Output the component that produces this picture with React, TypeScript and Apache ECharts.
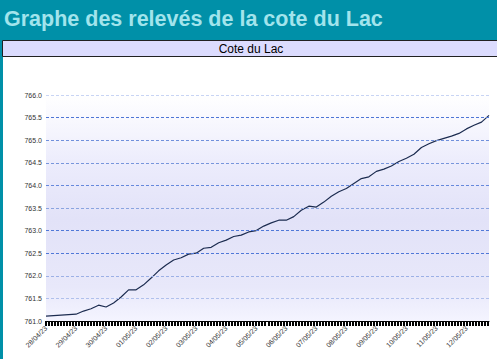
import React, { useEffect, useRef } from "react";
import * as echarts from "echarts";

const pageTitle = "Graphe des relevés de la cote du Lac";
const chartTitle = "Cote du Lac";
const dateLabels = [
  "28/04/23", "29/04/23", "30/04/23", "01/05/23", "02/05/23", "03/05/23", "04/05/23",
  "05/05/23", "06/05/23", "07/05/23", "08/05/23", "09/05/23", "10/05/23", "11/05/23", "12/05/23",
];
const stepHours = 6;
const levels = [
  761.11, 761.12, 761.13, 761.14, 761.15, 761.22, 761.27, 761.35, 761.31, 761.4,
  761.53, 761.69, 761.69, 761.8, 761.95, 762.11, 762.24, 762.35, 762.4, 762.48,
  762.5, 762.61, 762.63, 762.73, 762.79, 762.87, 762.9, 762.97, 763.0, 763.1,
  763.17, 763.23, 763.23, 763.31, 763.45, 763.54, 763.52, 763.63, 763.76, 763.86,
  763.93, 764.04, 764.15, 764.19, 764.31, 764.36, 764.43, 764.53, 764.6, 764.69,
  764.84, 764.92, 764.99, 765.04, 765.09, 765.15, 765.25, 765.33, 765.4, 765.55,
];
const yTicks = [761.5, 762.0, 762.5, 763.0, 763.5, 764.0, 764.5, 765.0, 765.5, 766.0];
const gridColors = [
  "#b0c0ec", "#9cb0e6", "#5078d8", "#5078d8", "#8aa4e0",
  "#6688dc", "#7896dc", "#7090dc", "#4f76d6", "#c8d4f4",
];
const yMin = 761;
const yMax = 766;

export default function App() {
  const ref = useRef<HTMLDivElement>(null);
  useEffect(() => {
    document.body.style.margin = "0";
    const chart = echarts.init(ref.current!, null, { renderer: "svg" });
    const data = levels.map((v, i) => [i * stepHours, v]);
    const xMax = (levels.length - 1) * stepHours;
    chart.setOption({
      animation: false,
      backgroundColor: "#0090a8",
      textStyle: { fontFamily: "Liberation Sans, Arial, sans-serif" },
      graphic: [
        {
          type: "rect",
          shape: { x: 3, y: 57, width: 500, height: 310 },
          style: { fill: "#ffffff" },
          z: -10,
        },
        {
          type: "rect",
          shape: { x: 2.5, y: 40.5, width: 500, height: 16 },
          style: { fill: "#dcdcfe", stroke: "#222222", lineWidth: 1 },
          z: -5,
        },
        {
          type: "text",
          x: 251,
          y: 49,
          style: {
            text: chartTitle,
            fill: "#000000",
            font: "12px Liberation Sans, Arial, sans-serif",
            textAlign: "center",
            textVerticalAlign: "middle",
          },
        },
        {
          type: "text",
          x: 4,
          y: 19,
          style: {
            text: pageTitle,
            fill: "#a2e4ec",
            font: "bold 21.5px Liberation Sans, Arial, sans-serif",
            textAlign: "left",
            textVerticalAlign: "middle",
          },
        },
      ],
      grid: {
        left: 46,
        right: 8,
        top: 95,
        bottom: 38,
        show: true,
        borderWidth: 0,
        backgroundColor: new echarts.graphic.LinearGradient(0, 0, 0, 1, [
          { offset: 0, color: "#ffffff" },
          { offset: 0.3, color: "#ececfc" },
          { offset: 0.55, color: "#e2e2f8" },
          { offset: 0.85, color: "#e8e8fa" },
          { offset: 1, color: "#f4f4ff" },
        ]),
      },
      xAxis: {
        type: "value",
        min: 0,
        max: xMax,
        interval: 2.4,
        axisLine: { show: true, lineStyle: { color: "#000000", width: 1 } },
        axisTick: { show: true, length: 5, lineStyle: { color: "#000000", width: 2 } },
        splitLine: { show: false },
        axisLabel: {
          rotate: 45,
          margin: 6,
          fontSize: 7,
          color: "#333333",
          showMinLabel: true,
          showMaxLabel: false,
          formatter: (v: number) => {
            const d = v / 24;
            const r = Math.round(d);
            return Math.abs(d - r) < 1e-6 ? dateLabels[r] ?? "" : "";
          },
        },
      },
      yAxis: {
        type: "value",
        min: yMin,
        max: yMax,
        interval: 0.5,
        axisLine: { show: false },
        axisTick: { show: false },
        axisLabel: {
          fontSize: 7,
          color: "#333333",
          margin: 4,
          formatter: (v: number) => v.toFixed(1),
        },
        splitLine: { show: false },
      },
      series: [
        {
          type: "line",
          data: [],
          z: 1,
          silent: true,
          markLine: {
            silent: true,
            symbol: "none",
            label: { show: false },
            animation: false,
            data: yTicks.map((t, i) => ({
              yAxis: t,
              lineStyle: { color: gridColors[i], type: [3, 2], width: 1 },
            })),
          },
        },
        {
          type: "line",
          data,
          showSymbol: false,
          symbol: "none",
          lineStyle: { color: "#1c2c50", width: 1.2 },
          z: 3,
        },
      ],
    });
    return () => chart.dispose();
  }, []);
  return (
    <div
      ref={ref}
      style={{ position: "fixed", left: 0, top: 0, width: 497, height: 359 }}
    />
  );
}
